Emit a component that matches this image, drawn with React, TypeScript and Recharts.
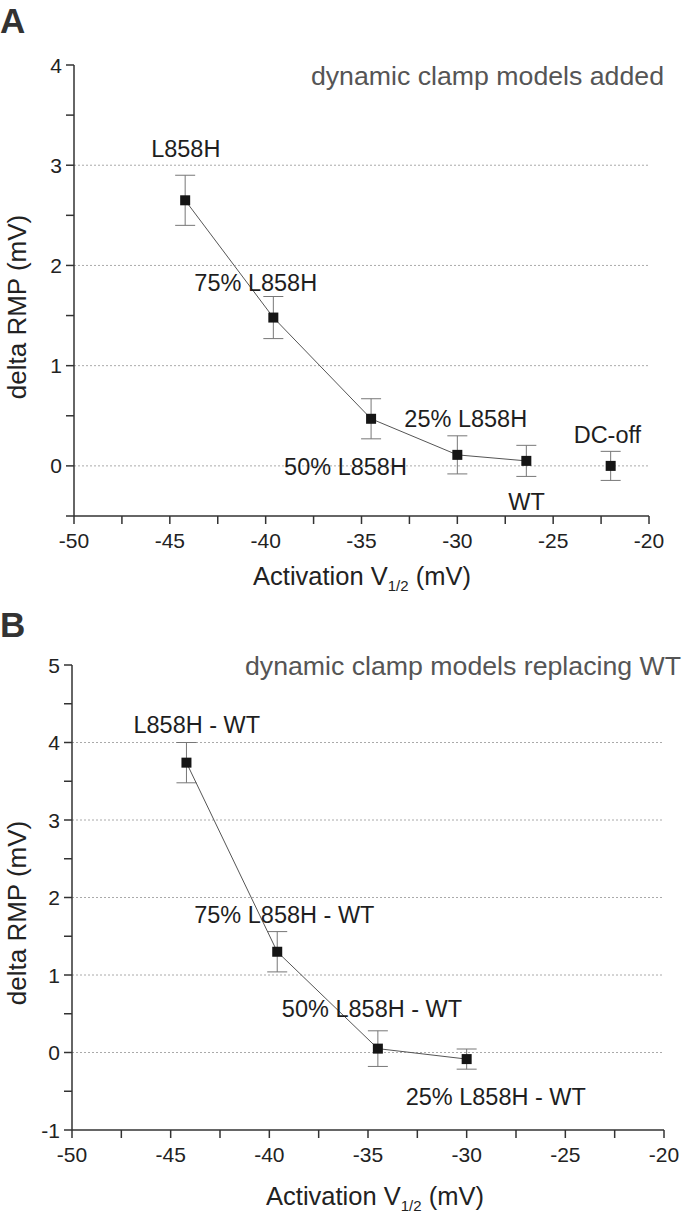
import React from 'react';
import { ScatterChart, Scatter, XAxis, YAxis, ErrorBar, ReferenceLine } from 'recharts';

const FONT = '"Liberation Sans", Arial, Helvetica, sans-serif';

// ---- Panel A data ----
const categoriesA = ['L858H', '75% L858H', '50% L858H', '25% L858H', 'WT'];
const activationA = [-44.2, -39.6, -34.5, -30.0, -26.4];
const deltaRmpA = [2.65, 1.48, 0.47, 0.11, 0.05];
const errorA = [0.25, 0.21, 0.2, 0.19, 0.155];

const categoriesOff = ['DC-off'];
const activationOff = [-22.0];
const deltaRmpOff = [0.0];
const errorOff = [0.145];

// ---- Panel B data ----
const categoriesB = ['L858H - WT', '75% L858H - WT', '50% L858H - WT', '25% L858H - WT'];
const activationB = [-44.2, -39.6, -34.5, -30.0];
const deltaRmpB = [3.74, 1.3, 0.05, -0.085];
const errorB = [0.26, 0.26, 0.23, 0.13];

// ---- ticks ----
const xTicks = [-50, -47.5, -45, -42.5, -40, -37.5, -35, -32.5, -30, -27.5, -25, -22.5, -20];
const yTicksA = [-0.5, 0, 0.5, 1, 1.5, 2, 2.5, 3, 3.5, 4];
const yTicksB = [-1, -0.5, 0, 0.5, 1, 1.5, 2, 2.5, 3, 3.5, 4, 4.5, 5];
const gridA = [0, 1, 2, 3];
const gridB = [0, 1, 2, 3, 4];

const titleA = 'dynamic clamp models added';
const titleB = 'dynamic clamp models replacing WT';
const yTitle = 'delta RMP (mV)';

// label placement (style): [dx to left edge, dy to baseline] relative to marker centre
const labelPos: Record<string, [number, number]> = {
  'L858H': [-34, -43],
  '75% L858H': [-79, -27],
  '50% L858H': [-87, 56],
  '25% L858H': [-53, -28],
  'WT': [-18, 49],
  'DC-off': [-37, -23],
  'L858H - WT': [-53, -30],
  '75% L858H - WT': [-83, -29],
  '50% L858H - WT': [-96, -32],
  '25% L858H - WT': [-61, 46],
};

const build = (names: string[], xs: number[], ys: number[], es: number[]) =>
  names.map((name, i) => ({ name, x: xs[i], y: ys[i], err: es[i] }));

const seriesA = build(categoriesA, activationA, deltaRmpA, errorA);
const seriesOff = build(categoriesOff, activationOff, deltaRmpOff, errorOff);
const seriesB = build(categoriesB, activationB, deltaRmpB, errorB);

const MarkerShape = (props: any) => {
  const { cx, cy, payload } = props;
  if (cx == null || cy == null) return <g />;
  const name = payload?.name ?? '';
  const pos = labelPos[name] || [0, -20];
  return (
    <g>
      <rect x={cx - 5} y={cy - 5} width={10} height={10} fill="#151515" />
      <text
        x={cx + pos[0]}
        y={cy + pos[1]}
        textAnchor="start"
        fontSize={23.5}
        fontFamily={FONT}
        fill="#1e1e1e"
      >
        {name}
      </text>
    </g>
  );
};

const XTick = (props: any) => {
  const { x, y, payload } = props;
  const v = payload.value;
  if (v % 5 !== 0) return <g />;
  return (
    <text x={x} y={y} dy="0.71em" textAnchor="middle" fontSize={21} fontFamily={FONT} fill="#222">
      {v}
    </text>
  );
};

const YTick = (props: any) => {
  const { x, y, payload } = props;
  const v = payload.value;
  if (!Number.isInteger(v)) return <g />;
  return (
    <text x={x} y={y} dy="0.36em" textAnchor="end" fontSize={21} fontFamily={FONT} fill="#222">
      {v}
    </text>
  );
};

const axisStroke = { stroke: '#333', strokeWidth: 1.5 };

const Panel = ({
  height,
  margin,
  yWidth,
  yDomain,
  yTicks,
  grid,
  series,
}: {
  height: number;
  margin: any;
  yWidth: number;
  yDomain: [number, number];
  yTicks: number[];
  grid: number[];
  series: { data: any[]; line: boolean }[];
}) => (
  <ScatterChart width={692} height={height} margin={margin}>
    <XAxis
      type="number"
      dataKey="x"
      domain={[-50, -20]}
      ticks={xTicks}
      interval={0}
      height={60}
      tickSize={8}
      tickMargin={9}
      axisLine={axisStroke}
      tickLine={axisStroke}
      tick={<XTick />}
      allowDataOverflow
    />
    <YAxis
      type="number"
      dataKey="y"
      domain={yDomain}
      ticks={yTicks}
      interval={0}
      width={yWidth}
      tickSize={8}
      tickMargin={4}
      axisLine={axisStroke}
      tickLine={axisStroke}
      tick={<YTick />}
      allowDataOverflow
    />
    {grid.map((g) => (
      <ReferenceLine key={g} y={g} stroke="#aaa" strokeWidth={1} strokeDasharray="2 2" />
    ))}
    {series.map((s, i) => (
      <Scatter
        key={i}
        data={s.data}
        fill="#151515"
        line={s.line ? { stroke: '#555', strokeWidth: 1 } : false}
        shape={<MarkerShape />}
        isAnimationActive={false}
      >
        <ErrorBar dataKey="err" direction="y" width={10} stroke="#777" strokeWidth={1} />
      </Scatter>
    ))}
  </ScatterChart>
);

const XTitle = ({ x, y }: { x: number; y: number }) => (
  <text x={x} y={y} textAnchor="middle" fontSize={25.5} fontFamily={FONT} fill="#222">
    Activation V
    <tspan dy={6} fontSize={15}>1/2</tspan>
    <tspan dy={-6}> (mV)</tspan>
  </text>
);

const YTitle = ({ x, y }: { x: number; y: number }) => (
  <text
    x={x}
    y={y}
    transform={`rotate(-90 ${x} ${y})`}
    textAnchor="middle"
    fontSize={26}
    fontFamily={FONT}
    fill="#222"
  >
    {yTitle}
  </text>
);

export default function App() {
  return (
    <div
      style={{
        position: 'absolute',
        left: 0,
        top: 0,
        width: 692,
        height: 1215,
        background: '#fff',
        overflow: 'hidden',
      }}
    >
      <div style={{ position: 'absolute', left: 0, top: 0 }}>
        <Panel
          height={600}
          margin={{ top: 65, right: 43, bottom: 24, left: 0 }}
          yWidth={74}
          yDomain={[-0.5, 4]}
          yTicks={yTicksA}
          grid={gridA}
          series={[
            { data: seriesA, line: true },
            { data: seriesOff, line: false },
          ]}
        />
      </div>
      <div style={{ position: 'absolute', left: 0, top: 600 }}>
        <Panel
          height={615}
          margin={{ top: 65, right: 28, bottom: 25, left: 0 }}
          yWidth={72}
          yDomain={[-1, 5]}
          yTicks={yTicksB}
          grid={gridB}
          series={[{ data: seriesB, line: true }]}
        />
      </div>
      <svg
        width={692}
        height={1215}
        style={{ position: 'absolute', left: 0, top: 0, pointerEvents: 'none' }}
      >
        <text x={0} y={33} fontSize={35} fontWeight="bold" fontFamily={FONT} fill="#333">
          A
        </text>
        <text x={664} y={85} textAnchor="end" fontSize={26.7} fontFamily={FONT} fill="#555">
          {titleA}
        </text>
        <YTitle x={26} y={307} />
        <XTitle x={362} y={585} />
        <text x={0} y={637} fontSize={35} fontWeight="bold" fontFamily={FONT} fill="#333">
          B
        </text>
        <text x={681} y={675} textAnchor="end" fontSize={26.7} fontFamily={FONT} fill="#555">
          {titleB}
        </text>
        <YTitle x={26} y={913} />
        <XTitle x={375} y={1205} />
      </svg>
    </div>
  );
}
